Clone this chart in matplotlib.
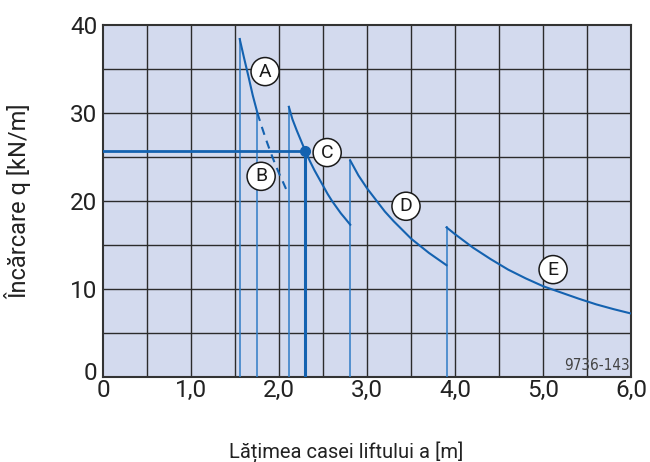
import matplotlib
matplotlib.use("Agg")
import matplotlib.pyplot as plt
import matplotlib.transforms as mtransforms

plt.rcParams['font.family'] = ['Roboto', 'DejaVu Sans']

# Curves (a [m], q [kN/m])
curve_a_x = [1.552, 1.60, 1.65, 1.70, 1.753]
curve_a_q = [38.4, 36.3, 34.2, 32.0, 30.0]
curve_b_x = [1.753, 1.80, 1.85, 1.90, 1.95, 2.00, 2.05, 2.094]
curve_b_q = [30.0, 28.5, 27.0, 25.6, 24.3, 23.1, 22.0, 21.0]
curve_c_x = [2.11, 2.15, 2.20, 2.25, 2.30, 2.35, 2.40, 2.45, 2.50,
             2.55, 2.60, 2.65, 2.70, 2.75, 2.807]
curve_c_q = [30.7, 29.3, 28.0, 26.8, 25.6, 24.5, 23.5, 22.6, 21.7,
             20.8, 20.0, 19.3, 18.6, 18.0, 17.3]
curve_d_x = [2.807, 2.9, 3.0, 3.1, 3.2, 3.3, 3.4, 3.5, 3.6, 3.7, 3.8, 3.9]
curve_d_q = [24.6, 22.9, 21.4, 20.1, 18.8, 17.7, 16.7, 15.7, 14.9, 14.1, 13.4, 12.7]
curve_e_x = [3.9, 4.0, 4.2, 4.4, 4.6, 4.8, 5.0, 5.2, 5.4, 5.6, 5.8, 6.0]
curve_e_q = [17.0, 16.2, 14.7, 13.4, 12.2, 11.2, 10.3, 9.6, 8.9, 8.25, 7.7, 7.2]

# vertical drop lines (a, top q)
drop_x = [1.552, 1.753, 2.11, 2.807, 3.9]
drop_top = [38.4, 30.0, 30.7, 24.6, 17.0]

# selected point C
point_x = 2.29
point_q = 25.7

labels = ['A', 'B', 'C', 'D', 'E']
label_x = [1.84, 1.795, 2.545, 3.44, 5.11]
label_q = [34.7, 22.8, 25.5, 19.4, 12.2]

xticks = [0, 1, 2, 3, 4, 5, 6]
xticklabels = ['0', '1,0', '2,0', '3,0', '4,0', '5,0', '6,0']
yticks = [0, 10, 20, 30, 40]

blue = '#1462b0'
blue_l = '#2f7cc6'

fig = plt.figure(figsize=(6.5, 4.62), dpi=100)
ax = fig.add_axes([0.1585, 0.184, 0.8130, 0.762])
ax.set_facecolor('#d3daee')
ax.set_xlim(0, 6)
ax.set_ylim(0, 40)

# grid
for gx in [0.5 * i for i in range(1, 12)]:
    ax.axvline(gx, color='#2b2b2b', lw=1.0, zorder=1)
for gy in [5 * i for i in range(1, 8)]:
    ax.axhline(gy, color='#2b2b2b', lw=1.0, zorder=1)

for x, t in zip(drop_x, drop_top):
    ax.plot([x, x], [0, t], color=blue_l, lw=1.1, zorder=3)

ax.plot(curve_a_x, curve_a_q, color=blue, lw=1.5, zorder=4)
ax.plot(curve_b_x, curve_b_q, color=blue, lw=1.5, ls=(0, (4, 3)), zorder=4)
ax.plot(curve_c_x, curve_c_q, color=blue, lw=1.5, zorder=4)
ax.plot(curve_d_x, curve_d_q, color=blue, lw=1.5, zorder=4)
ax.plot(curve_e_x, curve_e_q, color=blue, lw=1.5, zorder=4)

ax.plot([0, point_x], [point_q, point_q], color=blue, lw=2.0, zorder=4)
ax.plot([point_x, point_x], [0, point_q], color=blue, lw=2.2, zorder=4)
ax.plot([point_x], [point_q], 'o', color=blue, ms=7, zorder=5)

for lab, lx, lq in zip(labels, label_x, label_q):
    ax.text(lx, lq, lab, ha='center', va='center', fontsize=14, color='#1a1a1a',
            zorder=6,
            bbox=dict(boxstyle='circle,pad=0.26', fc='white', ec='#1a1a1a', lw=1.1))

ax.text(5.985, 0.4, '9736-143', ha='right', va='bottom', fontsize=11,
        family='DejaVu Sans', fontstretch='condensed',
        color='#444444', zorder=6)

ax.set_xticks(xticks)
ax.set_xticklabels(xticklabels)
ax.set_yticks(yticks)
ax.tick_params(length=0, labelsize=17.5, colors='#222222')
ax.tick_params(axis='x', pad=1.5)
ax.tick_params(axis='y', pad=4)

# the y "0" label sits a little higher in the reference
ylab0 = ax.get_yticklabels()[0]
ylab0.set_transform(ylab0.get_transform() +
                    mtransforms.ScaledTranslation(0, 6 / 100, fig.dpi_scale_trans))

for s in ax.spines.values():
    s.set_color('#333333')
    s.set_linewidth(1.5)

fig.text(346 / 650, 1 - 452 / 462, 'Lățimea casei liftului a [m]', fontsize=14.5,
         color='#222222', ha='center', va='center')
fig.text(18 / 650, 1 - 201 / 462, 'Încărcare q [kN/m]', fontsize=17,
         color='#222222', ha='center', va='center', rotation=90)

fig.savefig('out.png', dpi=100)
